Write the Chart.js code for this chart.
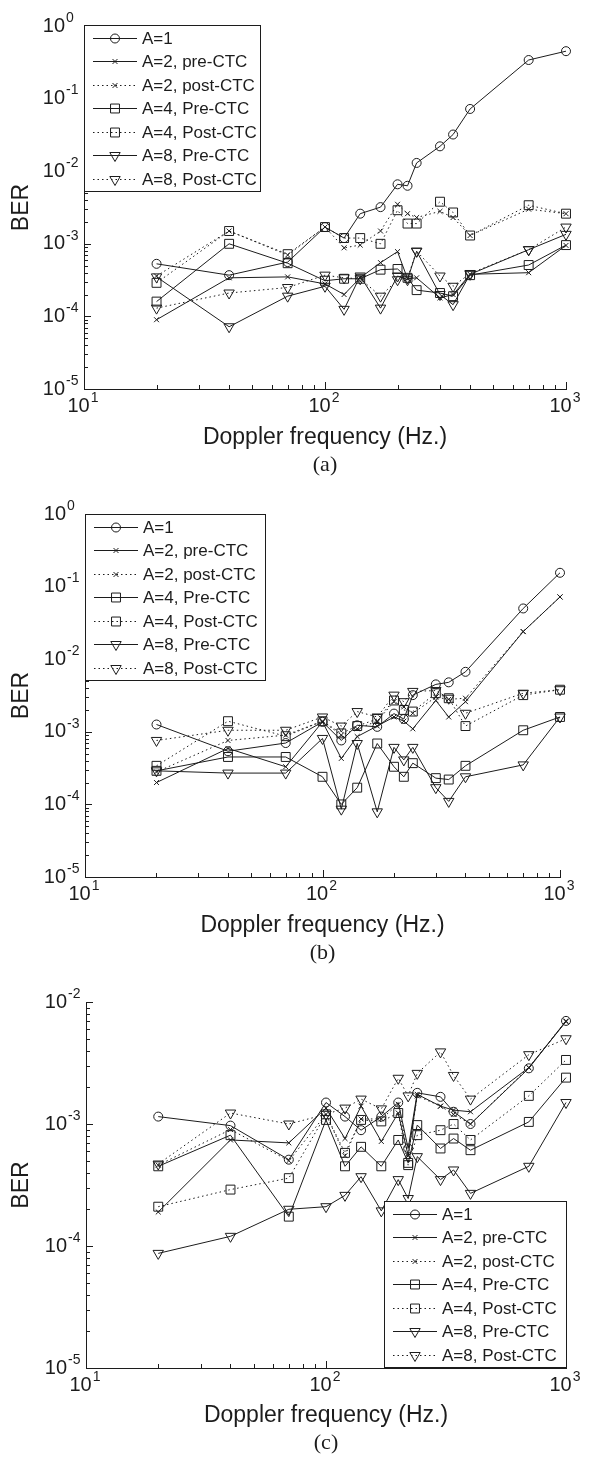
<!DOCTYPE html>
<html>
<head>
<meta charset="utf-8">
<title>BER vs Doppler frequency</title>
<script src="https://cdn.jsdelivr.net/npm/chart.js@4.4.1/dist/chart.umd.min.js"></script>
<style>
  html, body { margin: 0; padding: 0; background: #fff; }
  body { width: 589px; height: 1458px; position: relative; overflow: hidden; }
  .panel { position: absolute; left: 0; width: 589px; }
  .panel canvas { display: block; }
</style>
</head>
<body>
<div class="panel" style="top:0"><canvas id="chartA" width="589" height="480"></canvas></div>
<div class="panel" style="top:488px"><canvas id="chartB" width="589" height="480"></canvas></div>
<div class="panel" style="top:979px"><canvas id="chartC" width="589" height="479"></canvas></div>
<script>
// Doppler frequencies (Hz) shared by all three panels
const freqs = [20, 40, 70, 100, 120, 140, 170, 200, 220, 240, 300, 340, 400, 700, 1000];

const seriesLabels = ['A=1', 'A=2, pre-CTC', 'A=2, post-CTC', 'A=4, Pre-CTC', 'A=4, Post-CTC', 'A=8, Pre-CTC', 'A=8, Post-CTC'];

// decade exponents used for tick labels
const xExponents = [1, 2, 3];
const yExponentsAB = [0, -1, -2, -3, -4, -5];
const yExponentsC = [-2, -3, -4, -5];

// panel (a)
const a1      = [5.3e-4, 3.7e-4, 5.6e-4, 1.7e-3, 1.2e-3, 2.6e-3, 3.2e-3, 6.6e-3, 6.3e-3, 1.3e-2, 2.2e-2, 3.2e-2, 7.2e-2, 0.34, 0.45];
const a2pre   = [9e-5, 3.4e-4, 3.5e-4, 2.8e-4, 2.0e-4, 3.4e-4, 5.5e-4, 7.8e-4, 3.3e-4, 3.4e-4, 1.8e-4, 2.0e-4, 3.8e-4, 4.0e-4, 9.5e-4];
const a2post  = [3.6e-4, 1.5e-3, 7.0e-4, 1.7e-3, 8.8e-4, 9.6e-4, 1.5e-3, 3.5e-3, 2.6e-3, 2.3e-3, 2.8e-3, 2.3e-3, 1.3e-3, 3.0e-3, 2.6e-3];
const a4pre   = [1.6e-4, 1.0e-3, 5.4e-4, 3.1e-4, 3.3e-4, 3.3e-4, 4.4e-4, 4.5e-4, 3.4e-4, 2.3e-4, 2.1e-4, 1.9e-4, 3.7e-4, 5.1e-4, 9.6e-4];
const a4post  = [2.9e-4, 1.5e-3, 7.2e-4, 1.7e-3, 1.2e-3, 1.2e-3, 1.0e-3, 2.9e-3, 1.9e-3, 1.9e-3, 3.8e-3, 2.7e-3, 1.3e-3, 3.4e-3, 2.6e-3];
const a8pre   = [3.5e-4, 7.2e-5, 1.9e-4, 2.6e-4, 1.25e-4, 3.6e-4, 1.3e-4, 3.6e-4, 3.2e-4, 7.9e-4, 2.0e-4, 1.45e-4, 3.8e-4, 8.3e-4, 1.35e-3];
const a8post  = [1.3e-4, 2.1e-4, 2.5e-4, 3.7e-4, 3.4e-4, 3.3e-4, 1.9e-4, 3.2e-4, 3.4e-4, 7.9e-4, 3.6e-4, 2.6e-4, 3.9e-4, 8.3e-4, 1.7e-3];

// panel (b)
const b1      = [1.26e-3, 5.4e-4, 7.0e-4, 1.37e-3, 7.6e-4, 1.23e-3, 1.17e-3, 1.78e-3, 1.5e-3, 3.2e-3, 4.5e-3, 4.8e-3, 6.7e-3, 5.0e-2, 0.155];
const b2pre   = [2.0e-4, 5.9e-4, 3.3e-4, 1.37e-3, 4.3e-4, 8.6e-4, 1.2e-3, 1.6e-3, 1.4e-3, 1.1e-3, 2.7e-3, 1.6e-3, 2.6e-3, 2.4e-2, 7.2e-2];
const b2post  = [2.8e-4, 7.6e-4, 9.0e-4, 1.4e-3, 9.0e-4, 1.1e-3, 1.4e-3, 2.6e-3, 2.2e-3, 1.8e-3, 3.0e-3, 2.8e-3, 2.9e-3, 2.4e-2, 7.2e-2];
const b4pre   = [2.9e-4, 4.5e-4, 4.5e-4, 2.4e-4, 1.0e-4, 1.7e-4, 6.9e-4, 3.3e-4, 2.4e-4, 3.7e-4, 2.3e-4, 2.2e-4, 3.4e-4, 1.05e-3, 1.6e-3];
const b4post  = [3.4e-4, 1.4e-3, 8.7e-4, 1.4e-3, 9.5e-4, 1.2e-3, 1.5e-3, 2.7e-3, 2.0e-3, 1.9e-3, 3.4e-3, 2.9e-3, 1.2e-3, 3.2e-3, 3.8e-3];
const b8pre   = [2.9e-4, 2.7e-4, 2.7e-4, 8.1e-4, 8.6e-5, 6.9e-4, 7.9e-5, 6.1e-4, 4.1e-4, 6.1e-4, 1.7e-4, 1.1e-4, 2.4e-4, 3.5e-4, 1.6e-3];
const b8post  = [7.6e-4, 1.05e-3, 1.05e-3, 1.6e-3, 1.2e-3, 1.9e-3, 1.6e-3, 3.2e-3, 2.6e-3, 3.6e-3, 3.7e-3, 2.9e-3, 1.8e-3, 3.4e-3, 3.8e-3];

// panel (c)
const c1      = [1.15e-3, 9.7e-4, 5.1e-4, 1.5e-3, 1.15e-3, 8.9e-4, 1.15e-3, 1.5e-3, 6.3e-4, 1.8e-3, 1.67e-3, 1.26e-3, 1.0e-3, 2.86e-3, 7.0e-3];
const c2pre   = [1.9e-4, 7.4e-4, 7.0e-4, 1.35e-3, 7.6e-4, 1.4e-3, 7.2e-4, 1.23e-3, 5.5e-4, 1.75e-3, 1.4e-3, 1.3e-3, 1.26e-3, 2.9e-3, 6.9e-3];
const c2post  = [4.6e-4, 9.0e-4, 5.0e-4, 1.2e-3, 5.5e-4, 1.1e-3, 1.1e-3, 1.45e-3, 5.5e-4, 1.7e-3, 1.4e-3, 1.2e-3, 1.0e-3, 2.9e-3, 7.0e-3];
const c4pre   = [4.5e-4, 8.1e-4, 1.74e-4, 1.08e-3, 4.5e-4, 6.5e-4, 4.5e-4, 7.4e-4, 4.8e-4, 9.8e-4, 6.3e-4, 7.6e-4, 6.1e-4, 1.04e-3, 2.4e-3];
const c4post  = [2.1e-4, 2.9e-4, 3.6e-4, 1.2e-3, 5.8e-4, 1.08e-3, 1.05e-3, 1.23e-3, 4.6e-4, 8.1e-4, 8.9e-4, 1.0e-3, 7.4e-4, 1.7e-3, 3.35e-3];
const c8pre   = [8.7e-5, 1.2e-4, 2.0e-4, 2.1e-4, 2.6e-4, 3.7e-4, 1.94e-4, 3.5e-4, 2.45e-4, 5.4e-4, 3.5e-4, 4.2e-4, 2.7e-4, 4.5e-4, 1.5e-3];
const c8post  = [4.7e-4, 1.23e-3, 1.0e-3, 1.2e-3, 1.35e-3, 1.6e-3, 1.33e-3, 2.37e-3, 1.7e-3, 2.6e-3, 3.9e-3, 2.5e-3, 1.6e-3, 3.7e-3, 5.0e-3];

// marker / line style per series, same order as seriesLabels
const seriesStyles = [
  { marker: 'circle', r: 4.5, dotted: false, rot: 0 },
  { marker: 'crossRot', r: 3.5, dotted: false, rot: 0 },
  { marker: 'crossRot', r: 3.5, dotted: true, rot: 0 },
  { marker: 'rect', r: 6.3, dotted: false, rot: 0 },
  { marker: 'rect', r: 6.3, dotted: true, rot: 0 },
  { marker: 'triangle', r: 6, dotted: false, rot: 180 },
  { marker: 'triangle', r: 6, dotted: true, rot: 180 }
];

const FONT = '"Liberation Sans", Arial, Helvetica, sans-serif';
const INK = '#1c1c1c';
Chart.defaults.font.family = FONT;

// "10" with a raised exponent
function drawPower(ctx, exp, x, y, mode) {
  const e = String(exp);
  ctx.font = '20px ' + FONT;
  const wb = ctx.measureText('10').width;
  ctx.font = '14px ' + FONT;
  const we = ctx.measureText(e).width;
  const bx = mode === 'y' ? x - wb : x - (wb + we + 1) / 2;
  ctx.textAlign = 'left';
  ctx.textBaseline = 'middle';
  ctx.font = '20px ' + FONT;
  ctx.fillText('10', bx, y);
  ctx.font = '14px ' + FONT;
  ctx.fillText(e, bx + wb + 1, y - 8);
}

// inward log ticks and power-of-ten labels
const logTicks = {
  id: 'logTicks',
  afterDraw(chart, args, opts) {
    const { ctx, chartArea: area, scales: { x, y } } = chart;
    ctx.save();
    ctx.strokeStyle = INK;
    ctx.lineWidth = 1;
    ctx.beginPath();
    opts.xExp.forEach(ex => {
      for (let k = 1; k <= 9; k++) {
        const v = k * Math.pow(10, ex);
        if (v > x.max * 1.0001) break;
        const px = Math.round(x.getPixelForValue(v)) + 0.5;
        ctx.moveTo(px, area.bottom);
        ctx.lineTo(px, area.bottom - (k === 1 ? 7 : 4));
      }
    });
    opts.yExp.forEach(ex => {
      for (let k = 1; k <= 9; k++) {
        const v = k * Math.pow(10, ex);
        if (v > y.max * 1.0001) break;
        const py = Math.round(y.getPixelForValue(v)) + 0.5;
        ctx.moveTo(area.left, py);
        ctx.lineTo(area.left + (k === 1 ? 7 : 4), py);
      }
    });
    ctx.stroke();

    ctx.fillStyle = INK;
    opts.xExp.forEach(ex => {
      drawPower(ctx, ex, x.getPixelForValue(Math.pow(10, ex)) - 1, area.bottom + 17, 'x');
    });
    opts.yExp.forEach(ex => {
      drawPower(ctx, ex, area.left - 19, y.getPixelForValue(Math.pow(10, ex)), 'y');
    });
    ctx.restore();
  }
};

// boxed legend with line sample + marker
const boxLegend = {
  id: 'boxLegend',
  afterDraw(chart, args, opts) {
    const { ctx } = chart;
    const x0 = opts.x, y0 = opts.y, w = opts.w, h = 166;
    ctx.save();
    ctx.fillStyle = '#fff';
    ctx.fillRect(x0, y0, w, h);
    ctx.strokeStyle = INK;
    ctx.lineWidth = 1;
    ctx.strokeRect(x0 + 0.5, y0 + 0.5, w, h);
    chart.data.datasets.forEach((ds, i) => {
      const cy = Math.round(y0 + 12.5 + i * 23.5) + 0.5;
      ctx.strokeStyle = INK;
      ctx.setLineDash(ds.borderDash || []);
      ctx.beginPath();
      ctx.moveTo(x0 + 9, cy);
      ctx.lineTo(x0 + 53, cy);
      ctx.stroke();
      ctx.setLineDash([]);
      ctx.fillStyle = 'rgba(0,0,0,0)';
      Chart.helpers.drawPoint(ctx, {
        pointStyle: ds.pointStyle, rotation: ds.pointRotation, radius: ds.pointRadius, borderWidth: 1
      }, x0 + 31, cy);
      ctx.fillStyle = INK;
      ctx.font = '17px ' + FONT;
      ctx.textAlign = 'left';
      ctx.textBaseline = 'middle';
      ctx.fillText(ds.label, x0 + 58, cy + 1);
    });
    ctx.restore();
  }
};

const panels = [
  { id: 'chartA', letter: '(a)', top: 26, left: 84, right: 23, yMax: 1, yExp: yExponentsAB,
    series: [a1, a2pre, a2post, a4pre, a4post, a8pre, a8post], legend: { x: 84, y: 25, w: 176 } },
  { id: 'chartB', letter: '(b)', top: 26, left: 85, right: 29, yMax: 1, yExp: yExponentsAB,
    series: [b1, b2pre, b2post, b4pre, b4post, b8pre, b8post], legend: { x: 85, y: 26, w: 180 } },
  { id: 'chartC', letter: '(c)', top: 23, left: 86, right: 23, yMax: 1e-2, yExp: yExponentsC,
    series: [c1, c2pre, c2post, c4pre, c4post, c8pre, c8post], legend: { x: 384, y: 222, w: 182 } }
];

panels.forEach(p => {
  const canvas = document.getElementById(p.id);
  const titleBox = 22 * 1.2 + 2;
  const xHeight = canvas.height - titleBox - 389;
  new Chart(canvas, {
    type: 'line',
    data: {
      datasets: seriesLabels.map((label, i) => {
        const st = seriesStyles[i];
        return {
          label,
          data: freqs.map((f, j) => ({ x: f, y: p.series[i][j] })),
          borderColor: INK,
          borderWidth: 1,
          borderDash: st.dotted ? [1.5, 3] : [],
          pointStyle: st.marker,
          pointRotation: st.rot,
          pointRadius: st.r,
          pointBorderColor: INK,
          pointBorderWidth: 1,
          pointBackgroundColor: 'rgba(0,0,0,0)',
          tension: 0,
          fill: false,
          clip: false
        };
      })
    },
    options: {
      responsive: false,
      animation: false,
      devicePixelRatio: 1,
      layout: { padding: { top: p.top, right: p.right, left: 0, bottom: 0 } },
      plugins: {
        legend: { display: false },
        tooltip: { enabled: false },
        title: {
          display: true, position: 'bottom', fullSize: false, text: p.letter, color: INK,
          font: { family: '"Liberation Serif", "Times New Roman", serif', size: 22, weight: 'normal' },
          padding: { top: 0, bottom: 2 }
        },
        logTicks: { xExp: xExponents, yExp: p.yExp },
        boxLegend: p.legend
      },
      scales: {
        x: {
          type: 'logarithmic', min: 10, max: 1000,
          grid: { display: false },
          border: { display: true, color: INK, width: 1 },
          ticks: { display: false },
          title: { display: true, text: 'Doppler frequency (Hz.)', color: INK,
                   font: { size: 23 }, padding: 0 },
          afterFit: s => { s.height = xHeight; }
        },
        y: {
          type: 'logarithmic', min: 1e-5, max: p.yMax,
          grid: { display: false },
          border: { display: true, color: INK, width: 1 },
          ticks: { display: false },
          title: { display: true, text: 'BER', color: INK,
                   font: { size: 23 }, padding: { top: 8, bottom: 0 } },
          afterFit: s => { s.width = p.left; }
        }
      }
    },
    plugins: [logTicks, boxLegend]
  });
});
</script>
</body>
</html>
